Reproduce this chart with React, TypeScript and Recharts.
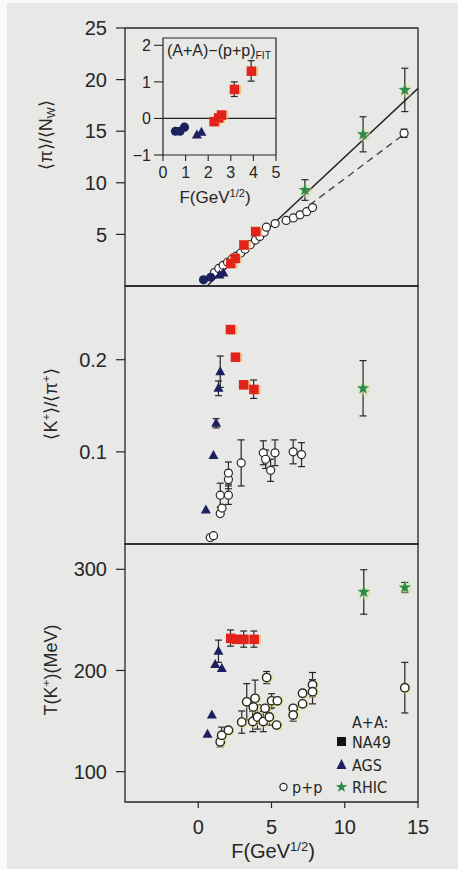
import React from "react";
import {
  ScatterChart,
  Scatter,
  XAxis,
  YAxis,
  ErrorBar,
  ReferenceArea,
  ReferenceLine,
} from "recharts";

type Pt = { x: number; y: number; e?: number };

// axis ticks
const X_TICKS = [0, 5, 10, 15];
const PI_TICKS = [5, 10, 15, 20, 25];
const KPI_TICKS = [0.1, 0.2];
const T_TICKS = [100, 200, 300];
const INSET_X_TICKS = [0, 1, 2, 3, 4, 5];
const INSET_Y_TICKS = [-1, 0, 1, 2];

// panel 1: <pi>/<N_W>
const piAgsCircles: Pt[] = [
  { x: 0.36, y: 0.6 },
  { x: 0.85, y: 0.85 },
];
const piAgsTri: Pt[] = [
  { x: 1.45, y: 1.07 },
  { x: 1.72, y: 1.25 },
];
const piNa49: Pt[] = [
  { x: 2.2, y: 2.2 },
  { x: 2.5, y: 2.7 },
  { x: 3.1, y: 4.0 },
  { x: 3.9, y: 5.3 },
];
const piPP: Pt[] = [
  { x: 1.1, y: 1.3 },
  { x: 1.4, y: 1.7 },
  { x: 1.7, y: 2.0 },
  { x: 2.0, y: 2.3 },
  { x: 2.3, y: 2.6 },
  { x: 2.6, y: 2.9 },
  { x: 2.9, y: 3.2 },
  { x: 3.2, y: 3.55 },
  { x: 3.55, y: 4.0 },
  { x: 3.9, y: 4.45 },
  { x: 4.2, y: 4.8 },
  { x: 4.5, y: 5.2 },
  { x: 4.65, y: 5.7 },
  { x: 5.25, y: 6.05 },
  { x: 6.0, y: 6.35 },
  { x: 6.5, y: 6.6 },
  { x: 6.95, y: 6.9 },
  { x: 7.4, y: 7.2 },
  { x: 7.8, y: 7.6 },
  { x: 14.05, y: 14.8, e: 0.4 },
];
const piRhic: Pt[] = [
  { x: 7.28, y: 9.3, e: 1.0 },
  { x: 11.25, y: 14.7, e: 1.7 },
  { x: 14.1, y: 19.0, e: 2.1 },
];
const aaFit: Pt[] = [
  { x: 0.6, y: 0 },
  { x: 15, y: 19.15 },
];
const ppFit: Pt[] = [
  { x: 7.6, y: 7.85 },
  { x: 14.0, y: 14.66 },
];

// inset: (A+A)-(p+p)FIT
const inAgsCircles: Pt[] = [
  { x: 0.55, y: -0.35 },
  { x: 0.75, y: -0.35 },
  { x: 0.95, y: -0.24 },
];
const inAgsTri: Pt[] = [
  { x: 1.5, y: -0.45 },
  { x: 1.7, y: -0.38 },
];
const inNa49: Pt[] = [
  { x: 2.25, y: -0.08 },
  { x: 2.45, y: 0.02 },
  { x: 2.58, y: 0.1 },
  { x: 3.15, y: 0.8, e: 0.2 },
  { x: 3.9, y: 1.3, e: 0.28 },
];

// panel 2: <K+>/<pi+>
const kNa49: Pt[] = [
  { x: 2.18, y: 0.233 },
  { x: 2.52, y: 0.203 },
  { x: 3.08, y: 0.173 },
  { x: 3.78, y: 0.168, e: 0.01 },
];
const kAgs: Pt[] = [
  { x: 1.5, y: 0.187, e: 0.017 },
  { x: 1.38, y: 0.169, e: 0.008 },
  { x: 1.22, y: 0.131, e: 0.005 },
  { x: 1.04, y: 0.096 },
  { x: 0.52, y: 0.037 },
];
const kPP: Pt[] = [
  { x: 0.82, y: 0.007 },
  { x: 1.04, y: 0.009 },
  { x: 1.5, y: 0.033 },
  { x: 1.62, y: 0.039 },
  { x: 1.5, y: 0.053, e: 0.013 },
  { x: 2.06, y: 0.053, e: 0.01 },
  { x: 2.06, y: 0.07, e: 0.01 },
  { x: 2.06, y: 0.077, e: 0.012 },
  { x: 2.93, y: 0.088, e: 0.025 },
  { x: 4.44, y: 0.099, e: 0.013 },
  { x: 4.6, y: 0.092, e: 0.01 },
  { x: 4.94, y: 0.08, e: 0.012 },
  { x: 5.24, y: 0.099, e: 0.014 },
  { x: 6.48, y: 0.1, e: 0.013 },
  { x: 7.05, y: 0.097, e: 0.013 },
];
const kRhic: Pt[] = [{ x: 11.25, y: 0.169, e: 0.03 }];

// panel 3: T(K+) (MeV)
const tNa49: Pt[] = [
  { x: 2.2, y: 232, e: 8 },
  { x: 2.6, y: 231 },
  { x: 3.1, y: 231, e: 8 },
  { x: 3.8, y: 231, e: 8 },
];
const tAgs: Pt[] = [
  { x: 1.38, y: 219, e: 11 },
  { x: 1.16, y: 206 },
  { x: 1.61, y: 202 },
  { x: 0.93, y: 156 },
  { x: 0.63, y: 137 },
];
const tPP: Pt[] = [
  { x: 1.5, y: 129.5, e: 5 },
  { x: 1.6, y: 136, e: 8 },
  { x: 2.06, y: 141 },
  { x: 2.97, y: 149, e: 11 },
  { x: 3.31, y: 169, e: 18 },
  { x: 3.88, y: 172.5, e: 18 },
  { x: 3.76, y: 164 },
  { x: 3.72, y: 149.5, e: 10 },
  { x: 4.04, y: 154, e: 12 },
  { x: 4.44, y: 149.5, e: 10 },
  { x: 4.56, y: 162.6 },
  { x: 4.67, y: 193, e: 6 },
  { x: 4.85, y: 154, e: 8 },
  { x: 5.01, y: 170, e: 7 },
  { x: 5.4, y: 170 },
  { x: 5.35, y: 146 },
  { x: 6.48, y: 162.6 },
  { x: 6.48, y: 156, e: 6 },
  { x: 7.12, y: 177.5 },
  { x: 7.12, y: 167 },
  { x: 7.8, y: 186, e: 12 },
  { x: 7.8, y: 179, e: 12 },
  { x: 14.1, y: 183, e: 25 },
];
const tRhic: Pt[] = [
  { x: 11.3, y: 277.6, e: 22 },
  { x: 14.1, y: 282, e: 5 },
];

const NAVY = "#1c205e";
const RED = "#e2231b";
const HALO = "#f6b764";
const GREEN = "#2c8a4a";
const INK = "#262626";
const BG = "#e8e8e7";

const TICK_FONT = {
  fontFamily: "'Liberation Sans', Arial, sans-serif",
  fontSize: 20,
  fill: INK,
};

function NavyDot(props: any) {
  const { cx, cy } = props;
  if (cx == null) return null;
  return <circle cx={cx} cy={cy} r={4.6} fill={NAVY} />;
}

function NavyTri(props: any) {
  const { cx, cy } = props;
  if (cx == null) return null;
  return (
    <polygon
      points={`${cx},${cy - 5.5} ${cx - 5},${cy + 3.5} ${cx + 5},${cy + 3.5}`}
      fill={NAVY}
    />
  );
}

function RedSq(props: any) {
  const { cx, cy } = props;
  if (cx == null) return null;
  return (
    <g>
      <rect x={cx - 3} y={cy - 4} width={10} height={9} fill={HALO} opacity={0.75} />
      <rect x={cx - 4.5} y={cy - 4.5} width={9.5} height={9.5} fill={RED} />
    </g>
  );
}

function OpenDot(props: any) {
  const { cx, cy } = props;
  if (cx == null) return null;
  return <circle cx={cx} cy={cy} r={4} fill="#fff" stroke={INK} strokeWidth={1.2} />;
}

function OpenRing(props: any) {
  const { cx, cy } = props;
  if (cx == null) return null;
  return (
    <g>
      <circle cx={cx + 0.8} cy={cy + 0.5} r={5.6} fill="#e8e07a" opacity={0.6} />
      <circle cx={cx} cy={cy} r={4.2} fill="#fff" stroke={INK} strokeWidth={1.4} />
    </g>
  );
}

function starPath(cx: number, cy: number, ro: number, ri: number) {
  let d = "";
  for (let i = 0; i < 10; i++) {
    const a = ((-90 + i * 36) * Math.PI) / 180;
    const r = i % 2 === 0 ? ro : ri;
    d += `${i === 0 ? "M" : "L"}${cx + r * Math.cos(a)},${cy + r * Math.sin(a)}`;
  }
  return d + "Z";
}

function GreenStar(props: any) {
  const { cx, cy } = props;
  if (cx == null) return null;
  return (
    <g>
      <circle cx={cx + 1} cy={cy + 1} r={6.5} fill="#d6e49a" opacity={0.45} />
      <path d={starPath(cx, cy, 6.5, 2.6)} fill={GREEN} />
    </g>
  );
}

function Err() {
  return (
    <ErrorBar dataKey="e" direction="y" width={3.5} stroke={INK} strokeWidth={1.2} />
  );
}

function Frame({ y1, y2 }: { y1: number; y2: number }) {
  return (
    <ReferenceArea
      x1={-5}
      x2={15}
      y1={y1}
      y2={y2}
      fill="none"
      stroke={INK}
      strokeWidth={1.3}
      ifOverflow="visible"
    />
  );
}

const abs = (left: number, top: number): React.CSSProperties => ({
  position: "absolute",
  left,
  top,
});

function VLabel({ cx, cy, children }: { cx: number; cy: number; children: React.ReactNode }) {
  return (
    <div
      style={{
        ...abs(cx, cy),
        transform: "translate(-50%, -50%) rotate(-90deg)",
        whiteSpace: "nowrap",
        fontFamily: "'Liberation Sans', Arial, sans-serif",
        fontSize: 18,
        lineHeight: 1,
        color: INK,
      }}
    >
      {children}
    </div>
  );
}

const sup: React.CSSProperties = { fontSize: "0.65em", verticalAlign: "0.55em" };
const sub: React.CSSProperties = { fontSize: "0.65em", verticalAlign: "-0.25em" };

export default function App() {
  const yAxisCommon = {
    type: "number" as const,
    dataKey: "y",
    width: 125,
    tickSize: 9,
    tickMargin: 9,
    axisLine: false,
    tickLine: { stroke: INK, strokeWidth: 1.2 },
    tick: TICK_FONT,
    allowDataOverflow: true,
  };
  const margin = (top: number, bottom: number) => ({ top, right: 40, bottom, left: 0 });

  return (
    <div style={{ ...abs(0, 0), width: 458, height: 869, background: "#fafafa", overflow: "hidden" }}>
      <div style={{ ...abs(7, 3), width: 451, height: 866, background: BG }} />

      {/* panel 1 */}
      <div style={abs(0, 0)}>
        <ScatterChart width={458} height={300} margin={margin(28, 14)}>
          <XAxis type="number" dataKey="x" domain={[-5, 15]} ticks={X_TICKS} hide allowDataOverflow />
          <YAxis {...yAxisCommon} domain={[0, 25]} ticks={PI_TICKS} />
          <Frame y1={0} y2={25} />
          <ReferenceLine
            segment={[
              { x: aaFit[0].x, y: aaFit[0].y },
              { x: aaFit[1].x, y: aaFit[1].y },
            ]}
            stroke={INK}
            strokeWidth={1.4}
          />
          <ReferenceLine
            segment={[
              { x: ppFit[0].x, y: ppFit[0].y },
              { x: ppFit[1].x, y: ppFit[1].y },
            ]}
            stroke="#444"
            strokeWidth={1.4}
            strokeDasharray="7 5"
          />
          <Scatter data={piPP} shape={<OpenDot />} isAnimationActive={false}>
            {Err()}
          </Scatter>
          <Scatter data={piAgsCircles} shape={<NavyDot />} isAnimationActive={false} />
          <Scatter data={piAgsTri} shape={<NavyTri />} isAnimationActive={false} />
          <Scatter data={piNa49} shape={<RedSq />} isAnimationActive={false} />
          <Scatter data={piRhic} shape={<GreenStar />} isAnimationActive={false}>
            {Err()}
          </Scatter>
        </ScatterChart>
      </div>

      {/* panel 2 */}
      <div style={abs(0, 270)}>
        <ScatterChart width={458} height={290} margin={margin(16, 16)}>
          <XAxis type="number" dataKey="x" domain={[-5, 15]} ticks={X_TICKS} hide allowDataOverflow />
          <YAxis
            {...yAxisCommon}
            domain={[0, 0.28]}
            ticks={KPI_TICKS}
            tickFormatter={(v: number) => v.toFixed(1)}
          />
          <Frame y1={0} y2={0.28} />
          <Scatter data={kPP} shape={<OpenDot />} isAnimationActive={false}>
            {Err()}
          </Scatter>
          <Scatter data={kAgs} shape={<NavyTri />} isAnimationActive={false}>
            {Err()}
          </Scatter>
          <Scatter data={kNa49} shape={<RedSq />} isAnimationActive={false}>
            {Err()}
          </Scatter>
          <Scatter data={kRhic} shape={<GreenStar />} isAnimationActive={false}>
            {Err()}
          </Scatter>
        </ScatterChart>
      </div>

      {/* panel 3 */}
      <div style={abs(0, 530)}>
        <ScatterChart width={458} height={339} margin={margin(14, 0)}>
          <XAxis
            type="number"
            dataKey="x"
            domain={[-5, 15]}
            ticks={X_TICKS}
            height={67}
            tickSize={6}
            tickMargin={12}
            axisLine={false}
            tickLine={{ stroke: INK, strokeWidth: 1.2 }}
            tick={TICK_FONT}
            allowDataOverflow
          />
          <YAxis {...yAxisCommon} domain={[70, 325]} ticks={T_TICKS} />
          <Frame y1={70} y2={325} />
          <Scatter data={tPP} shape={<OpenRing />} isAnimationActive={false}>
            {Err()}
          </Scatter>
          <Scatter data={tAgs} shape={<NavyTri />} isAnimationActive={false}>
            {Err()}
          </Scatter>
          <Scatter data={tNa49} shape={<RedSq />} isAnimationActive={false}>
            {Err()}
          </Scatter>
          <Scatter data={tRhic} shape={<GreenStar />} isAnimationActive={false}>
            {Err()}
          </Scatter>
        </ScatterChart>
      </div>

      {/* inset */}
      <div style={abs(0, 0)}>
        <ScatterChart width={300} height={210} margin={{ top: 38, right: 24, bottom: 25, left: 0 }}>
          <XAxis
            type="number"
            dataKey="x"
            domain={[0, 5]}
            ticks={INSET_X_TICKS}
            height={30}
            tickSize={6}
            tickMargin={6}
            axisLine={false}
            tickLine={{ stroke: INK, strokeWidth: 1.1 }}
            tick={{ ...TICK_FONT, fontSize: 16 }}
            allowDataOverflow
          />
          <YAxis
            type="number"
            dataKey="y"
            domain={[-1, 2.2]}
            ticks={INSET_Y_TICKS}
            width={163}
            tickSize={9}
            tickMargin={3}
            axisLine={false}
            tickLine={{ stroke: INK, strokeWidth: 1.1 }}
            tick={{ ...TICK_FONT, fontSize: 16 }}
            tickFormatter={(v: number) => (v < 0 ? `−${-v}` : `${v}`)}
            allowDataOverflow
          />
          <ReferenceArea
            x1={0}
            x2={5}
            y1={-1}
            y2={2.2}
            fill="none"
            stroke={INK}
            strokeWidth={1.2}
            ifOverflow="visible"
          />
          <ReferenceLine y={0} stroke={INK} strokeWidth={1.2} />
          <Scatter data={inAgsCircles} shape={<NavyDot />} isAnimationActive={false} />
          <Scatter data={inAgsTri} shape={<NavyTri />} isAnimationActive={false} />
          <Scatter data={inNa49} shape={<RedSq />} isAnimationActive={false}>
            {Err()}
          </Scatter>
        </ScatterChart>
      </div>

      {/* texts */}
      <div
        style={{
          ...abs(167, 43),
          fontFamily: "'Liberation Sans', Arial, sans-serif",
          fontSize: 16,
          lineHeight: 1,
          color: INK,
          whiteSpace: "nowrap",
        }}
      >
        (A+A)−(p+p)<span style={sub}>FIT</span>
      </div>
      <div
        style={{
          ...abs(215, 188),
          transform: "translateX(-50%)",
          fontFamily: "'Liberation Sans', Arial, sans-serif",
          fontSize: 17,
          lineHeight: 1,
          color: INK,
          whiteSpace: "nowrap",
        }}
      >
        F(GeV<span style={sup}>1/2</span>)
      </div>
      <div
        style={{
          ...abs(273, 840),
          transform: "translateX(-50%)",
          fontFamily: "'Liberation Sans', Arial, sans-serif",
          fontSize: 20,
          lineHeight: 1,
          color: INK,
          whiteSpace: "nowrap",
        }}
      >
        F(GeV<span style={sup}>1/2</span>)
      </div>

      <VLabel cx={47} cy={135}>
        ⟨π⟩/⟨N<span style={sub}>W</span>⟩
      </VLabel>
      <VLabel cx={50} cy={404}>
        ⟨K<span style={sup}>+</span>⟩/⟨π<span style={sup}>+</span>⟩
      </VLabel>
      <VLabel cx={50} cy={670}>
        T(K<span style={sup}>+</span>)(MeV)
      </VLabel>

      {/* legend */}
      <svg width={458} height={869} style={{ ...abs(0, 0), pointerEvents: "none" }}>
        <g
          style={{
            fontFamily: "'Liberation Sans Narrow', 'DejaVu Sans Condensed', sans-serif",
            fontSize: 16,
          }}
          fill={INK}
        >
          <text x={352} y={728}>A+A:</text>
          <rect x={337} y={737} width={9} height={9} fill="#111" />
          <text x={352} y={748}>NA49</text>
          <polygon points="341.5,759 336.5,769 346.5,769" fill={NAVY} />
          <text x={352} y={771}>AGS</text>
          <circle cx={283.5} cy={787} r={3.6} fill="#fff" stroke={INK} strokeWidth={1.2} />
          <text x={292} y={793}>p+p</text>
          <path d={starPath(341.5, 787, 6, 2.4)} fill={GREEN} />
          <text x={352} y={793}>RHIC</text>
        </g>
      </svg>
    </div>
  );
}
